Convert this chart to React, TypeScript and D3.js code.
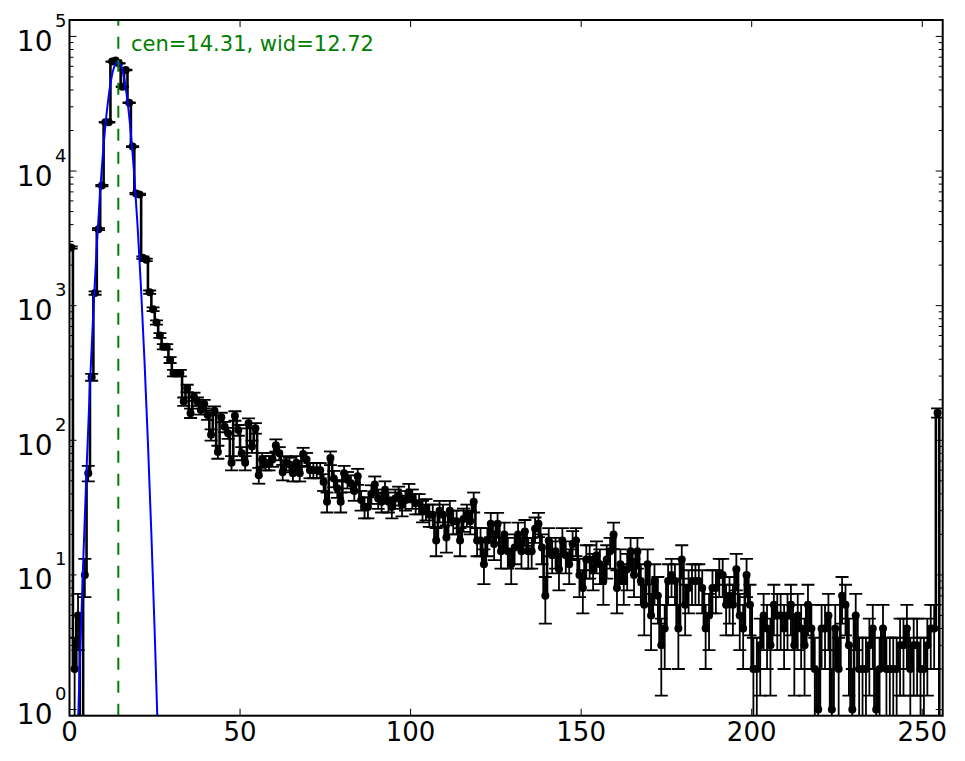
import React from 'react';
import * as d3 from 'd3';

// histogram counts, one per unit bin (bin i is centred at i + 0.5)
const counts: number[] = [
  2700, 2, 5, 0, 10, 57, 294, 1240, 3700, 7800, 23000, 23000, 65000, 66200, 63000, 42300, 56300, 32200, 15200, 6800, 6700, 2270, 2190, 1260, 940, 750,
  600, 496, 496, 395, 316, 316, 316, 194, 243, 159, 211, 194, 168, 186, 154, 110, 166, 82, 148, 126, 113, 68, 152, 119, 80, 68, 134, 90, 123, 55,
  72, 68, 68, 72, 92, 80, 58, 68, 66, 57, 68, 57, 79, 72, 60, 60, 60, 60, 49, 35, 74, 52, 44, 35, 57, 51, 48, 42, 54, 36, 32, 32, 40, 47, 37, 35, 43, 35, 32, 37,
  39, 33, 36, 41, 37, 34, 34, 30, 31, 28, 28, 18, 30, 28, 19, 30, 25, 25, 18, 26, 28, 25, 35, 18, 18, 12, 18, 24, 17, 24,
  15, 20, 15, 12, 16, 20, 15, 21, 15, 15, 22, 24, 16, 7, 18, 14, 15, 11, 18, 14, 12, 17, 18, 10, 8, 13, 13, 11, 14, 12, 9, 13, 15, 20, 8, 12, 9, 11, 15, 10,
  15, 9, 6, 12, 5, 9, 7, 3, 4, 9, 10, 9, 4, 13, 6, 8, 9, 9, 9, 8, 4, 5, 8, 8, 10, 10, 6, 7, 6, 11, 5, 4, 10, 6, 2, 2, 3, 5, 4, 3,
  6, 5, 5, 4, 5, 6, 3, 5, 4, 3, 6, 4, 2, 1, 4, 4, 5, 1, 4, 2, 7, 6, 3, 1, 5, 2, 2, 2, 3, 4, 1, 2, 4, 2, 2, 2, 2, 3, 3, 4,
  2, 3, 3, 2, 2, 3, 4, 4, 160, 0,
];

// fitted curve
const fitX: number[] = [2, 3, 4, 5, 6, 7, 8, 9, 10, 11, 12, 13, 14, 15, 16, 17, 18, 19, 20, 21, 22, 23, 24, 25, 26, 27];
const fitY: number[] = [0.3, 2.06, 12.1, 60.6, 257, 918, 2785, 7130, 15480, 28440, 44220, 58230, 64880, 61200, 48860, 33030, 18910, 9160, 3753, 1303, 382, 94.9, 20.2, 3.6, 0.54, 0.07];

const fitCen = 14.31;
const fitWid = 12.72;
const xTicks: number[] = [0, 50, 100, 150, 200, 250];
const yDecades: number[] = [0, 1, 2, 3, 4, 5];
const xMax = 256;
const yMin = 0.9;

const W = 965;
const H = 761;
const L = 69.5, R = 942.7, T = 20, B = 715.7;
const FONT = 'DejaVu Sans, Bitstream Vera Sans, sans-serif';

export default function App() {
  const x = d3.scaleLinear().domain([0, xMax]).range([L, R]);
  const yTop = 2 * (d3.max(counts) as number);
  const y = d3.scaleLog().domain([yMin, yTop]).range([B, T]);
  const floorV = 1e-3;
  const yc = (v: number) => y(Math.max(v, floorV));

  const pts: [number, number][] = counts.map((v, i) => [i + 0.5, v]);
  const stepPath = d3.line<[number, number]>()
    .x(d => x(d[0]))
    .y(d => yc(d[1]))
    .curve(d3.curveStep)(pts) as string;

  const fitPts: [number, number][] = fitX.map((xv, i) => [xv, fitY[i]]);
  const fitPath = d3.line<[number, number]>()
    .x(d => x(d[0]))
    .y(d => yc(d[1]))
    .curve(d3.curveCatmullRom)(fitPts) as string;

  const minor: number[] = [];
  for (let d = -1; d <= 5; d++) {
    for (let k = 2; k <= 9; k++) {
      const v = k * Math.pow(10, d);
      if (v >= yMin && v <= yTop) minor.push(v);
    }
  }

  const capHalf = 6.5;
  const major = 7;
  const minorLen = 4;

  return (
    <svg width={W} height={H} style={{ position: 'absolute', left: 0, top: 0, background: '#fff' }} fontFamily={FONT}>
      <defs>
        <clipPath id="plotclip">
          <rect x={L} y={T} width={R - L} height={B - T} />
        </clipPath>
      </defs>
      <rect x={0} y={0} width={W} height={H} fill="#fff" />
      <g clipPath="url(#plotclip)">
        {/* error bars */}
        {pts.filter(p => p[1] > 0).map((p, i) => {
          const px = x(p[0]);
          const e = Math.sqrt(p[1]);
          const lo = p[1] - e;
          const hi = p[1] + e;
          const yHi = yc(hi);
          const yLo = lo > 0 ? yc(lo) : B + 20;
          return (
            <g key={'e' + i} stroke="#000" strokeWidth={1.8}>
              <line x1={px} x2={px} y1={yHi} y2={yLo} />
              <line x1={px - capHalf} x2={px + capHalf} y1={yHi} y2={yHi} />
              {lo > 0 && <line x1={px - capHalf} x2={px + capHalf} y1={yLo} y2={yLo} />}
            </g>
          );
        })}
        <path d={stepPath} fill="none" stroke="#000" strokeWidth={2.6} strokeLinejoin="miter" />
        {pts.filter(p => p[1] > 0).map((p, i) => (
          <circle key={'m' + i} cx={x(p[0])} cy={yc(p[1])} r={4} fill="#000" />
        ))}
        <path d={fitPath} fill="none" stroke="#0000ff" strokeWidth={2} />
        <line x1={x(fitCen)} x2={x(fitCen)} y1={B} y2={T} stroke="#008000" strokeWidth={2} strokeDasharray="12 11" />
      </g>

      {/* ticks */}
      <g stroke="#000" strokeWidth={1}>
        {xTicks.map(t => (
          <g key={'xt' + t}>
            <line x1={x(t)} x2={x(t)} y1={B} y2={B - major} />
            <line x1={x(t)} x2={x(t)} y1={T} y2={T + major} />
          </g>
        ))}
        {yDecades.map(d => {
          const yy = y(Math.pow(10, d));
          return (
            <g key={'yt' + d}>
              <line x1={L} x2={L + major} y1={yy} y2={yy} />
              <line x1={R} x2={R - major} y1={yy} y2={yy} />
            </g>
          );
        })}
        {minor.map(v => {
          const yy = y(v);
          return (
            <g key={'ym' + v}>
              <line x1={L} x2={L + minorLen} y1={yy} y2={yy} />
              <line x1={R} x2={R - minorLen} y1={yy} y2={yy} />
            </g>
          );
        })}
      </g>

      {/* frame */}
      <rect x={L} y={T} width={R - L} height={B - T} fill="none" stroke="#000" strokeWidth={2} />

      {/* x labels */}
      {xTicks.map(t => (
        <text key={'xl' + t} x={x(t)} y={740.5} textAnchor="middle" fontSize={26} fill="#000">{t}</text>
      ))}
      {/* y labels */}
      {yDecades.map(d => {
        const yy = y(Math.pow(10, d));
        return (
          <g key={'yl' + d}>
            <text x={52.5} y={yy + 14.5} textAnchor="end" fontSize={28} fill="#000">10</text>
            <text x={55} y={yy - 9.5} textAnchor="start" fontSize={18} fill="#000">{d}</text>
          </g>
        );
      })}

      <text x={131} y={51} fontSize={21} fill="#008000">{`cen=${fitCen.toFixed(2)}, wid=${fitWid.toFixed(2)}`}</text>
    </svg>
  );
}
